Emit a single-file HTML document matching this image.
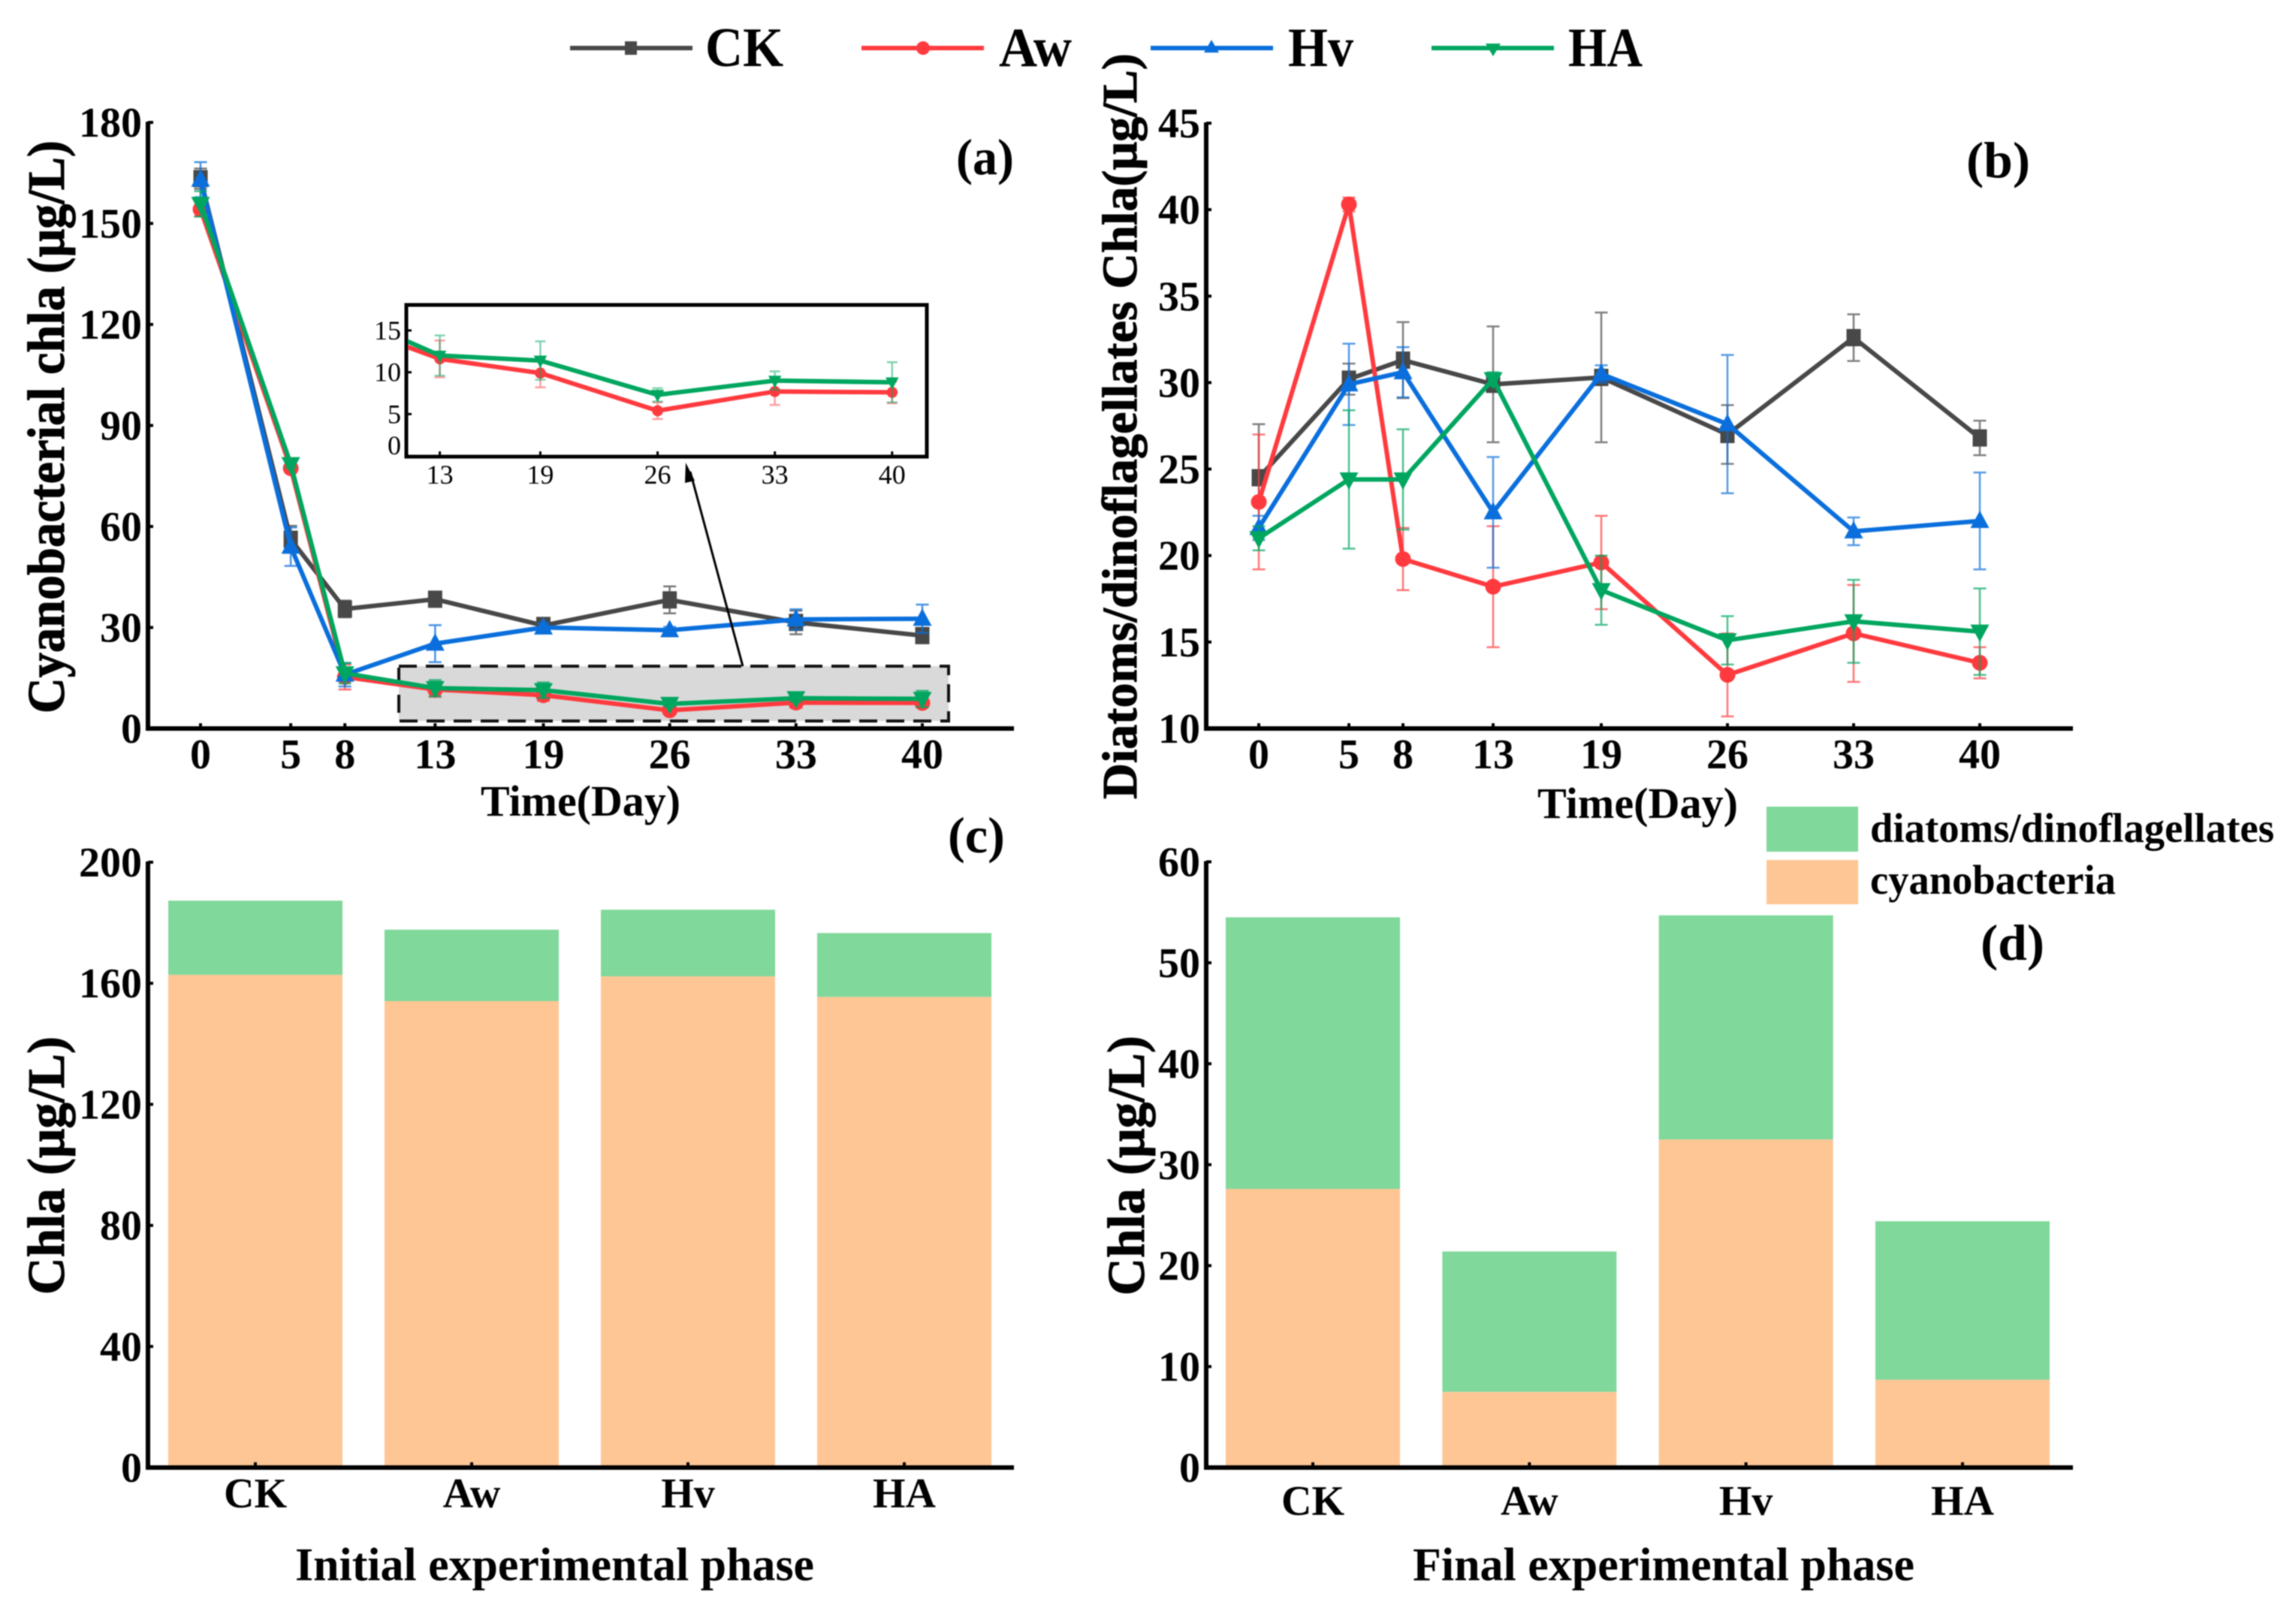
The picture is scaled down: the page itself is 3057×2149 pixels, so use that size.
<!DOCTYPE html>
<html lang="en">
<head>
<meta charset="utf-8">
<title>Chlorophyll a time series and stacked bars</title>
<style>
html,body{margin:0;padding:0;background:#fff;}
svg{display:block;filter:blur(0.7px);}
text{font-family:"Liberation Serif",serif;fill:#000;}
.b{font-weight:bold;}
.heavy{font-weight:bold;stroke:#000;stroke-width:1;}
</style>
</head>
<body>
<svg id="figure" xmlns="http://www.w3.org/2000/svg" width="3057" height="2149" viewBox="0 0 3057 2149">
  <rect x="0" y="0" width="3057" height="2149" fill="#ffffff"/>

  <g>
    <g>
      <line x1="759" y1="64" x2="922" y2="64" stroke="#484848" stroke-width="6"/>
      <rect x="832" y="55" width="16" height="18" fill="#484848"/>
      <text class="b" x="939" y="88" font-size="74" textLength="104" lengthAdjust="spacingAndGlyphs">CK</text>
    </g>
    <g>
      <line x1="1147" y1="64" x2="1310" y2="64" stroke="#ff3a3e" stroke-width="6"/>
      <circle cx="1229" cy="64" r="9" fill="#ff3a3e"/>
      <text class="b" x="1330" y="88" font-size="74" textLength="97" lengthAdjust="spacingAndGlyphs">Aw</text>
    </g>
    <g>
      <line x1="1532" y1="64" x2="1695" y2="64" stroke="#0a6fdc" stroke-width="6"/>
      <polygon points="1613,53 1623,70 1603,70" fill="#0a6fdc"/>
      <text class="b" x="1715" y="88" font-size="74" textLength="87" lengthAdjust="spacingAndGlyphs">Hv</text>
    </g>
    <g>
      <line x1="1906" y1="64" x2="2069" y2="64" stroke="#00a65f" stroke-width="6"/>
      <polygon points="1978,58 1998,58 1988,75" fill="#00a65f"/>
      <text class="b" x="2088" y="88" font-size="74" textLength="99" lengthAdjust="spacingAndGlyphs">HA</text>
    </g>
  </g>

  <g id="panel-a">
    <rect x="531" y="887" width="732" height="73" fill="#d9d9d9" stroke="#111" stroke-width="4" stroke-dasharray="24 12"/>
  </g>
  <g id="panel-b"></g>
  <g id="panel-c"></g>
  <g id="panel-d"></g>

  <g id="inset">
    <rect x="541" y="406" width="693" height="202" fill="#ffffff" stroke="#000" stroke-width="5"/>
  </g>

  <g>
    <line x1="989" y1="887" x2="919" y2="628" stroke="#000" stroke-width="3"/>
    <polygon points="913,616 925,640 912,643" fill="#000"/>
  </g>

  <text class="b" x="1273" y="232" font-size="68" textLength="77" lengthAdjust="spacingAndGlyphs">(a)</text>
  <text class="b" x="2618" y="236" font-size="68" textLength="85" lengthAdjust="spacingAndGlyphs">(b)</text>
  <text class="b" x="1262" y="1135" font-size="68" textLength="76" lengthAdjust="spacingAndGlyphs">(c)</text>
  <text class="b" x="2637" y="1278" font-size="68" textLength="85" lengthAdjust="spacingAndGlyphs">(d)</text>

  <text class="heavy" transform="translate(85,950) rotate(-90)" font-size="70" textLength="763" lengthAdjust="spacingAndGlyphs">Cyanobacterial chla (μg/L)</text>
  <text class="heavy" transform="translate(1513,1064) rotate(-90)" font-size="66" textLength="993" lengthAdjust="spacingAndGlyphs">Diatoms/dinoflagellates Chla(μg/L)</text>
  <text class="heavy" transform="translate(85,1724) rotate(-90)" font-size="70" textLength="344" lengthAdjust="spacingAndGlyphs">Chla (μg/L)</text>
  <text class="heavy" transform="translate(1523,1725) rotate(-90)" font-size="70" textLength="346" lengthAdjust="spacingAndGlyphs">Chla (μg/L)</text>

  <text class="b" x="640" y="1086" font-size="58" textLength="266" lengthAdjust="spacingAndGlyphs">Time(Day)</text>
  <text class="b" x="2047" y="1089" font-size="58" textLength="267" lengthAdjust="spacingAndGlyphs">Time(Day)</text>
  <text class="b" x="393" y="2104" font-size="62" textLength="691" lengthAdjust="spacingAndGlyphs">Initial experimental phase</text>
  <text class="b" x="1881" y="2104" font-size="62" textLength="668" lengthAdjust="spacingAndGlyphs">Final experimental phase</text>

  <g>
    <g>
      <rect x="2352" y="1074" width="122" height="60" fill="#80d89b"/>
      <text class="b" x="2490" y="1121" font-size="55" textLength="538" lengthAdjust="spacingAndGlyphs">diatoms/dinoflagellates</text>
    </g>
    <g>
      <rect x="2352" y="1145" width="122" height="59" fill="#ffc695"/>
      <text class="b" x="2490" y="1190" font-size="55" textLength="327" lengthAdjust="spacingAndGlyphs">cyanobacteria</text>
    </g>
  </g>
</svg>

<script>
// ---------- Time-series data ----------
const days = [0, 5, 8, 13, 19, 26, 33, 40];
const insetDays = [13, 19, 26, 33, 40];

const cyanoCK = [163.3, 56.2, 35.5, 38.4, 30.6, 38.2, 31.5, 27.6];
const cyanoAw = [154.2, 77.3, 15.3, 11.6, 9.9, 5.4, 7.7, 7.6];
const cyanoHv = [163.0, 54.0, 16.0, 25.2, 30.0, 29.2, 32.4, 32.6];
const cyanoHA = [155.8, 78.5, 16.4, 12.0, 11.4, 7.3, 9.0, 8.8];

const cyanoErrCK = [3.0, 4.0, 2.5, 1.5, 1.5, 4.0, 3.5, 1.5];
const cyanoErrAw = [2.0, 1.0, 3.7, 2.2, 1.7, 1.0, 1.6, 1.3];
const cyanoErrHv = [5.2, 5.7, 3.5, 5.5, 1.2, 1.0, 3.0, 4.2];
const cyanoErrHA = [3.8, 1.0, 3.0, 2.4, 2.3, 0.8, 1.1, 2.4];

const diatomCK = [24.5, 30.2, 31.3, 29.9, 30.3, 27.0, 32.6, 26.8];
const diatomAw = [23.1, 40.3, 19.8, 18.2, 19.6, 13.1, 15.5, 13.8];
const diatomHv = [21.6, 29.9, 30.6, 22.5, 30.5, 27.6, 21.4, 22.0];
const diatomHA = [21.0, 24.4, 24.4, 30.2, 18.0, 15.1, 16.2, 15.6];

const diatomErrCK = [3.1, 0.9, 2.2, 3.35, 3.75, 1.7, 1.35, 1.0];
const diatomErrAw = [3.9, 0.4, 1.8, 3.5, 2.7, 2.4, 2.8, 0.9];
const diatomErrHv = [0.7, 2.35, 1.45, 3.2, 0.5, 4.0, 0.8, 2.8];
const diatomErrHA = [0.7, 4.0, 2.9, 0.4, 2.0, 1.4, 2.4, 2.5];

const cyanoTicks = [0, 30, 60, 90, 120, 150, 180];
const diatomTicks = [10, 15, 20, 25, 30, 35, 40, 45];
const insetTicks = [0, 5, 10, 15];

// ---------- Stacked bar data ----------
const groups = ['CK', 'Aw', 'Hv', 'HA'];
const initialCyano = [162.8, 154.1, 162.3, 155.5];
const initialDiatoms = [24.5, 23.6, 22.0, 21.1];
const finalCyano = [27.6, 7.5, 32.5, 8.7];
const finalDiatoms = [26.9, 13.9, 22.2, 15.7];
const initialTicks = [0, 40, 80, 120, 160, 200];
const finalTicks = [0, 10, 20, 30, 40, 50, 60];

// ---------- Styles ----------
const NS = 'http://www.w3.org/2000/svg';
const colorCK = '#484848', colorAw = '#ff3a3e', colorHv = '#0a6fdc', colorHA = '#00a65f';
const colorDiatoms = '#80d89b', colorCyano = '#ffc695';

function make(tag, attrs, parent) {
  const node = document.createElementNS(NS, tag);
  for (const k in attrs) node.setAttribute(k, attrs[k]);
  parent.appendChild(node);
  return node;
}

function linear(d0, d1, r0, r1) {
  return function (v) { return r0 + (v - d0) * (r1 - r0) / (d1 - d0); };
}

function drawAxes(g, prefix, x0, x1, yBase, yTop, yScale, yTicks, tickX, labels) {
  const yAxis = make('line', {x1: x0, y1: yTop - 1, x2: x0, y2: yBase + 3, stroke: '#000', 'stroke-width': 6}, g);
  
  
  const xAxis = make('line', {x1: x0 - 3, y1: yBase, x2: x1, y2: yBase, stroke: '#000', 'stroke-width': 6}, g);
  
  
  yTicks.forEach(function (t) {
    const y = yScale(t);
    const mark = make('line', {x1: x0, y1: y, x2: x0 + 7, y2: y, stroke: '#000', 'stroke-width': 4}, g);
    
    
    const label = make('text', {x: x0 - 8, y: y + 19, 'text-anchor': 'end', 'font-size': 56, 'class': 'b'}, g);
    label.textContent = t;
    
    
  });
  labels.forEach(function (d) {
    const x = tickX(d.value);
    const mark = make('line', {x1: x, y1: yBase, x2: x, y2: yBase - 7, stroke: '#000', 'stroke-width': 4}, g);
    
    
    const label = make('text', {x: x, y: d.baseline, 'text-anchor': 'middle', 'font-size': 56, 'class': 'b'}, g);
    label.textContent = d.text;
    
    
  });
}

function drawMarker(g, shape, x, y, size, color) {
  let node;
  if (shape === 'square') {
    const w = size * 0.95, h = size * 1.15;
    node = make('rect', {x: x - w, y: y - h, width: w * 2, height: h * 2, fill: color}, g);
  } else if (shape === 'circle') {
    node = make('circle', {cx: x, cy: y, r: size * 1.05, fill: color}, g);
  } else if (shape === 'up') {
    const s = size * 1.25;
    node = make('polygon', {points: (x) + ',' + (y - s * 1.1) + ' ' + (x + s) + ',' + (y + s * 0.75) + ' ' + (x - s) + ',' + (y + s * 0.75), fill: color}, g);
  } else {
    const s = size * 1.25;
    node = make('polygon', {points: (x - s) + ',' + (y - s * 0.75) + ' ' + (x + s) + ',' + (y - s * 0.75) + ' ' + (x) + ',' + (y + s * 1.1), fill: color}, g);
  }
  return node;
}

function drawSeries(g, prefix, key, xs, ys, xVals, vals, errs, color, shape, opts) {
  const group = make('g', {}, g);
  
  
  vals.forEach(function (v, i) {
    const x = xs(xVals[i]);
    const hi = ys(v + errs[i]), lo = ys(v - errs[i]);
    const bar = make('path', {
      d: 'M' + x + ' ' + hi + 'V' + lo + 'M' + (x - opts.cap) + ' ' + hi + 'H' + (x + opts.cap) + 'M' + (x - opts.cap) + ' ' + lo + 'H' + (x + opts.cap),
      fill: 'none', stroke: color, 'stroke-width': opts.errWidth, opacity: opts.errOpacity
    }, group);
    
    
  });
  const pts = vals.map(function (v, i) { return xs(xVals[i]) + ',' + ys(v); }).join(' ');
  const line = make('polyline', {points: pts, fill: 'none', stroke: color, 'stroke-width': opts.lineWidth, 'stroke-linejoin': 'round'}, group);
  
  
  vals.forEach(function (v, i) {
    const m = drawMarker(group, shape, xs(xVals[i]), ys(v), opts.size, color);
    
    
  });
}

function drawStacks(g, prefix, centerX, width, yScale, lower, upper) {
  groups.forEach(function (name, i) {
    const cx = centerX(i);
    const y0 = yScale(0), y1 = yScale(lower[i]), y2 = yScale(lower[i] + upper[i]);
    const low = make('rect', {x: cx - width / 2, y: y1, width: width, height: y0 - y1, fill: colorCyano}, g);
    
    
    const up = make('rect', {x: cx - width / 2, y: y2, width: width, height: y1 - y2, fill: colorDiatoms}, g);
    
    
  });
}

// ---------- Panel (a) ----------
(function () {
  const g = document.getElementById('panel-a');
  const xs = linear(0, 40, 267, 1228);
  const ys = linear(0, 180, 970, 163);
  const opts = {cap: 8.5, errWidth: 2.5, errOpacity: 0.75, lineWidth: 6, size: 10};
  drawSeries(g, 'panel-a', 'ck', xs, ys, days, cyanoCK, cyanoErrCK, colorCK, 'square', opts);
  drawSeries(g, 'panel-a', 'aw', xs, ys, days, cyanoAw, cyanoErrAw, colorAw, 'circle', opts);
  drawSeries(g, 'panel-a', 'hv', xs, ys, days, cyanoHv, cyanoErrHv, colorHv, 'up', opts);
  drawSeries(g, 'panel-a', 'ha', xs, ys, days, cyanoHA, cyanoErrHA, colorHA, 'down', opts);
  drawAxes(g, 'panel-a', 197, 1350, 970, 163, ys, cyanoTicks, xs,
    days.map(function (d) { return {value: d, text: d, baseline: 1023}; }));
})();

// ---------- Panel (b) ----------
(function () {
  const g = document.getElementById('panel-b');
  const xs = linear(0, 40, 1676, 2636);
  const ys = linear(10, 45, 970, 164);
  const opts = {cap: 8.5, errWidth: 2.5, errOpacity: 0.7, lineWidth: 6, size: 10};
  drawSeries(g, 'panel-b', 'ck', xs, ys, days, diatomCK, diatomErrCK, colorCK, 'square', opts);
  drawSeries(g, 'panel-b', 'aw', xs, ys, days, diatomAw, diatomErrAw, colorAw, 'circle', opts);
  drawSeries(g, 'panel-b', 'hv', xs, ys, days, diatomHv, diatomErrHv, colorHv, 'up', opts);
  drawSeries(g, 'panel-b', 'ha', xs, ys, days, diatomHA, diatomErrHA, colorHA, 'down', opts);
  drawAxes(g, 'panel-b', 1606, 2760, 970, 164, ys, diatomTicks, xs,
    days.map(function (d) { return {value: d, text: d, baseline: 1023}; }));
})();

// ---------- Panel (c) ----------
(function () {
  const g = document.getElementById('panel-c');
  const ys = linear(0, 200, 1954, 1148);
  const cx = linear(0, 3, 340, 1204);
  drawStacks(g, 'panel-c', cx, 232, ys, initialCyano, initialDiatoms);
  drawAxes(g, 'panel-c', 197, 1350, 1954, 1148, ys, initialTicks, cx,
    groups.map(function (n, i) { return {value: i, text: n, baseline: 2007}; }));
})();

// ---------- Panel (d) ----------
(function () {
  const g = document.getElementById('panel-d');
  const ys = linear(0, 60, 1954, 1147.5);
  const cx = linear(0, 3, 1748, 2613);
  drawStacks(g, 'panel-d', cx, 232, ys, finalCyano, finalDiatoms);
  drawAxes(g, 'panel-d', 1606, 2760, 1954, 1147.5, ys, finalTicks, cx,
    groups.map(function (n, i) { return {value: i, text: n, baseline: 2017}; }));
})();

// ---------- Inset ----------
(function () {
  const g = document.getElementById('inset');
  const xs = linear(13, 40, 585.6, 1187.8);
  const ys = linear(0, 15, 607, 440);
  const defs = make('defs', {}, g);
  const clip = make('clipPath', {id: 'inset-clip'}, defs);
  make('rect', {x: 543, y: 408, width: 689, height: 198}, clip);
  const plot = make('g', {'clip-path': 'url(#inset-clip)'}, g);
  
  
  const opts = {cap: 7, errWidth: 2.5, errOpacity: 0.5, lineWidth: 6, size: 7};
  drawSeries(plot, 'inset', 'aw', xs, ys, days, cyanoAw, cyanoErrAw, colorAw, 'circle', opts);
  drawSeries(plot, 'inset', 'ha', xs, ys, days, cyanoHA, cyanoErrHA, colorHA, 'down', opts);
  insetTicks.forEach(function (t) {
    const y = ys(t);
    const mark = make('line', {x1: 541, y1: y, x2: 548, y2: y, stroke: '#000', 'stroke-width': 3}, g);
    
    
    const label = make('text', {x: 534, y: t === 0 ? y - 2 : y + 12, 'text-anchor': 'end', 'font-size': 36}, g);
    label.textContent = t;
    
    
  });
  insetDays.forEach(function (d) {
    const x = xs(d);
    const mark = make('line', {x1: x, y1: 608, x2: x, y2: 601, stroke: '#000', 'stroke-width': 3}, g);
    
    
    const label = make('text', {x: x, y: 644, 'text-anchor': 'middle', 'font-size': 36}, g);
    label.textContent = d;
    
    
  });
})();
</script>
</body>
</html>
